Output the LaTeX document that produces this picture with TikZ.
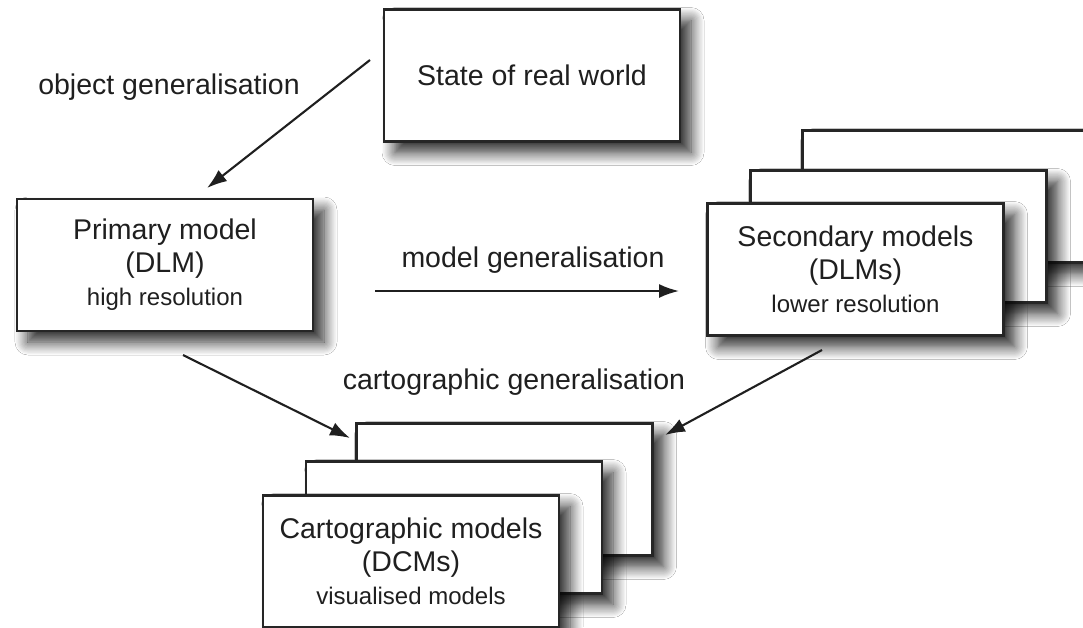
\documentclass[tikz,border=0pt]{standalone}
\usepackage{fontspec}
\setmainfont{Liberation Sans}
\usetikzlibrary{arrows.meta,shadows.blur}
\begin{document}
\begin{tikzpicture}[x=1pt,y=-1pt,
  model/.style={draw=black!85, line width=2.8pt, fill=white, inner sep=0pt,
    minimum width=296pt, minimum height=132pt, align=center,
    blur shadow={shadow xshift=11pt, shadow yshift=-11pt, shadow blur radius=13pt,
      shadow blur steps=12, shadow opacity=85},
    font=\fontsize{28.5}{33}\selectfont, text=black!88},
  caption/.style={font=\fontsize{28.5}{31}\selectfont, text=black!88},
  flow/.style={draw=black!88, line width=2.1pt, -{Latex[length=20pt,width=14pt]}}]
\useasboundingbox (0,0) rectangle (1083,627);
\clip (0,0) rectangle (1083,627);
\fill[white] (0,0) rectangle (1083,627);

% source
\node[model] (world) at (532,75.5) {State of real world};

% primary model
\node[model] (primary) at (165,265) {Primary model\\(DLM)\\{\fontsize{24}{28}\selectfont high resolution}};

% secondary stack, back to front
\node[model] (sec3) at (950.5,196.5) {};
\node[model] (sec2) at (898.5,236.5) {};
\node[model] (sec1) at (855.5,269.5) {Secondary models\\(DLMs)\\{\fontsize{24}{28}\selectfont lower resolution}};

% cartographic stack, back to front
\node[model] (cart3) at (504.5,489.5) {};
\node[model] (cart2) at (454,527.5) {};
\node[model] (cart1) at (411,561.5) {Cartographic models\\(DCMs)\\{\fontsize{24}{28}\selectfont visualised models}};

% connector end points
\coordinate (ogA) at (370,60);
\coordinate (ogB) at (207,188);
\coordinate (mgA) at (375,291);
\coordinate (mgB) at (679,291);
\coordinate (cgA) at (183,355);
\coordinate (cgB) at (350,438);
\coordinate (cgC) at (822,350);
\coordinate (cgD) at (665,435);

\draw[flow] (ogA) -- (ogB);
\draw[flow] (mgA) -- (mgB);
\draw[flow] (cgA) -- (cgB);
\draw[flow] (cgC) -- (cgD);

% labels
\node[caption] (oglabel) at (169,87) {object generalisation};
\node[caption] (mglabel) at (533,260) {model generalisation};
\node[caption] (cglabel) at (514,382) {cartographic generalisation};
\end{tikzpicture}
\end{document}
